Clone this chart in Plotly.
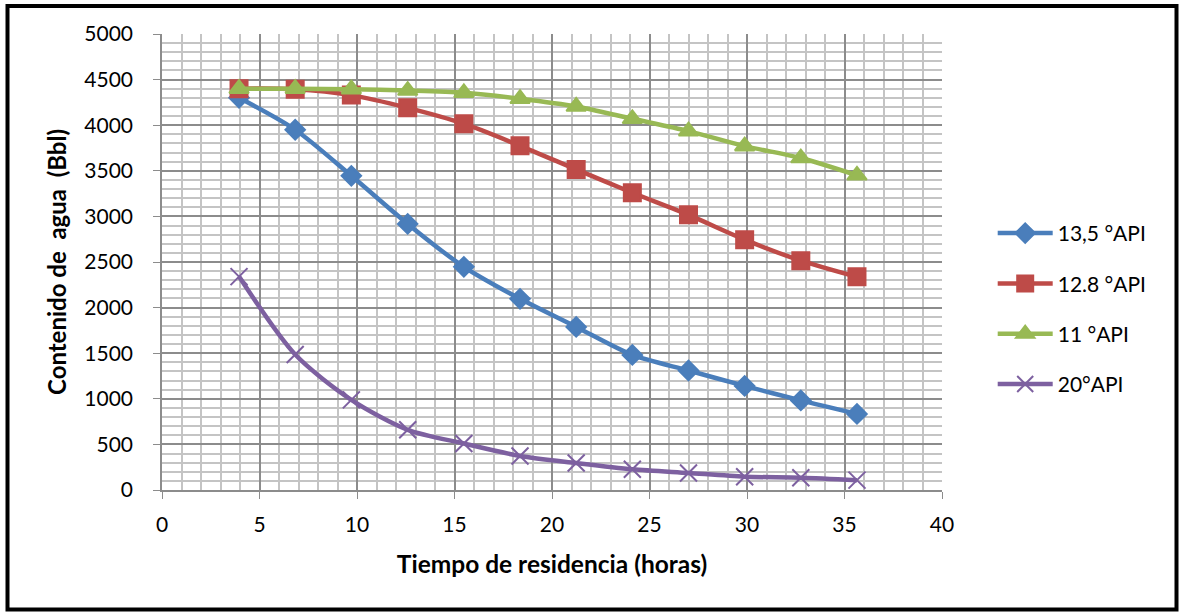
import plotly.graph_objects as go

tiempo = [3.95, 6.83, 9.71, 12.6, 15.48, 18.36, 21.24, 24.12, 27.0, 29.88, 32.76, 35.64]
api_135 = [4300, 3950, 3445, 2918, 2447, 2096, 1788, 1481, 1310, 1141, 982, 834]
api_128 = [4400, 4395, 4330, 4190, 4016, 3774, 3515, 3259, 3017, 2745, 2515, 2337]
api_11 = [4400, 4400, 4395, 4380, 4355, 4290, 4205, 4070, 3935, 3770, 3640, 3450]
api_20 = [2340, 1485, 988, 660, 510, 373, 296, 228, 187, 146, 135, 108]

series = [
    ("13,5 °API", api_135, "#4A7EBB", "diamond", 15),
    ("12.8 °API", api_128, "#BE4B48", "square", 17),
    ("11 °API", api_11, "#98B954", "triangle-up", 17),
    ("20°API", api_20, "#7D60A0", "x-thin-open", 17),
]

fig = go.Figure()
for i, (name, vals, color, sym, sz) in enumerate(series):
    fig.add_trace(go.Scatter(
        x=tiempo, y=vals, name=name, mode="lines+markers",
        line=dict(color=color, width=4.5, shape="spline", smoothing=0.8),
        marker=dict(symbol=sym, size=sz, color=color,
                    line=dict(color=color, width=2)),
        legendgroup=f"g{i}",
    ))

font = "Lato, 'Open Sans', sans-serif"
fig.update_layout(
    width=1179, height=613,
    margin=dict(l=162, r=237, t=34, b=123),
    paper_bgcolor="white", plot_bgcolor="white",
    font=dict(family=font, size=21, color="black"),
    showlegend=True,
    legend=dict(x=1.065, y=0.397, xanchor="left", yanchor="middle",
                font=dict(size=21), tracegroupgap=20, itemwidth=55,
                bgcolor="rgba(0,0,0,0)"),
    xaxis=dict(
        range=[0, 40], dtick=5, tick0=0,
        showgrid=True, gridcolor="#8C8C8C", gridwidth=1.5,
        minor=dict(dtick=1, showgrid=True, gridcolor="#C4C4C4", gridwidth=1.5,
                   ticks=""),
        showline=True, linecolor="#8C8C8C", linewidth=1.5,
        ticks="outside", ticklen=7, tickcolor="#8C8C8C",
        ticklabelstandoff=8,
        zeroline=False,
        title=dict(text="<b>Tiempo de residencia (horas)</b>", font=dict(size=24.5), standoff=21),
    ),
    yaxis=dict(
        range=[0, 5000], dtick=500, tick0=0,
        showgrid=True, gridcolor="#8C8C8C", gridwidth=1.5,
        minor=dict(dtick=100, showgrid=True, gridcolor="#C4C4C4", gridwidth=1.5,
                   ticks=""),
        showline=True, linecolor="#8C8C8C", linewidth=1.5,
        ticks="outside", ticklen=7, tickcolor="#8C8C8C",
        ticklabelstandoff=16,
        zeroline=False,
        title=dict(text="<b>Contenido de&nbsp; agua&nbsp; (Bbl)</b>", font=dict(size=24), standoff=11),
    ),
    shapes=[dict(type="rect", xref="paper", yref="paper",
                 x0=(7.5 - 162) / 780, x1=(1176.5 - 162) / 780,
                 y0=(490 - 609.5) / 456, y1=(490 - 6) / 456,
                 line=dict(color="black", width=4), fillcolor="rgba(0,0,0,0)",
                 layer="above")],
)

fig.write_html("out.html")
